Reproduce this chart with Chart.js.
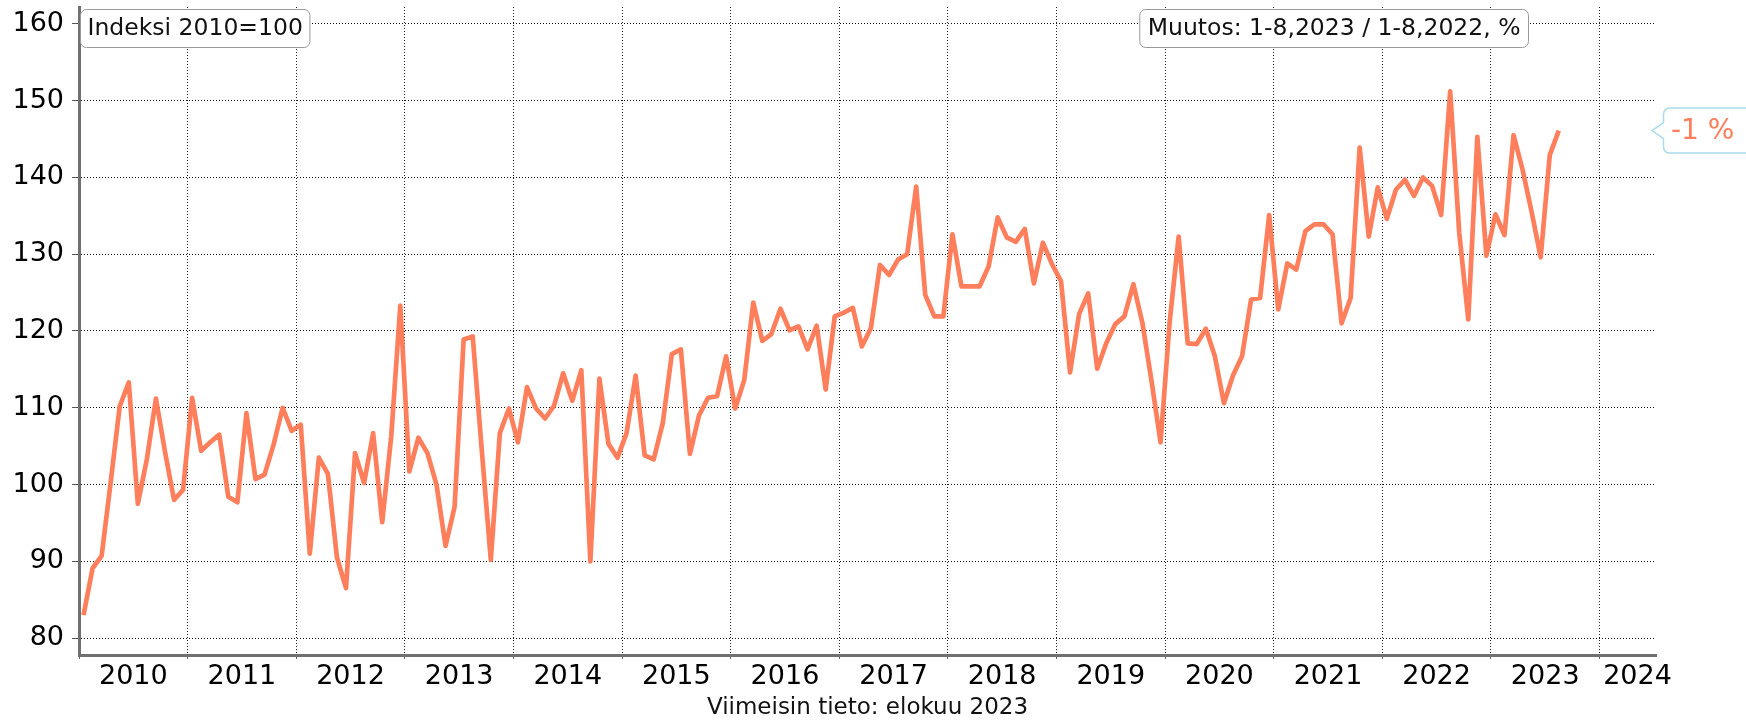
<!DOCTYPE html>
<html>
<head>
<meta charset="utf-8">
<script src="https://cdn.jsdelivr.net/npm/chart.js@4"></script>
<style>
html, body { margin: 0; padding: 0; background: #fff; }
</style>
</head>
<body>
<canvas id="myChart" width="1746" height="721"></canvas>
<script>
// monthly index values, Jan 2010 .. Aug 2023
var y2010 = [83.0, 89.1, 90.7, 100.3, 110.2, 113.3, 97.5, 103.3, 111.2, 104.3, 98.0, 99.3];
var y2011 = [111.3, 104.4, 105.5, 106.5, 98.4, 97.7, 109.3, 100.7, 101.3, 105.2, 110.0, 107.0];
var y2012 = [107.8, 91.0, 103.5, 101.4, 90.5, 86.5, 104.1, 100.2, 106.7, 95.1, 106.3, 123.3];
var y2013 = [101.7, 106.1, 104.1, 100.0, 92.0, 97.1, 118.9, 119.3, 104.5, 90.2, 106.7, 109.9];
var y2014 = [105.5, 112.7, 109.9, 108.6, 110.3, 114.5, 110.9, 114.9, 90.0, 113.8, 105.3, 103.5];
var y2015 = [106.7, 114.2, 103.8, 103.3, 108.0, 117.0, 117.6, 104.0, 109.0, 111.3, 111.5, 116.7];
var y2016 = [109.9, 113.6, 123.7, 118.7, 119.6, 122.9, 120.1, 120.6, 117.6, 120.7, 112.4, 121.9];
var y2017 = [122.4, 123.0, 118.0, 120.4, 128.6, 127.3, 129.3, 130.0, 138.8, 124.7, 121.9, 121.9];
var y2018 = [132.6, 125.8, 125.8, 125.8, 128.4, 134.8, 132.2, 131.6, 133.3, 126.2, 131.5, 128.7];
var y2019 = [126.5, 114.6, 122.2, 124.9, 115.1, 118.4, 120.9, 121.9, 126.1, 121.0, 113.5, 105.5];
var y2020 = [121.1, 132.3, 118.4, 118.3, 120.3, 116.7, 110.6, 114.2, 116.7, 124.1, 124.3, 135.1];
var y2021 = [122.8, 128.8, 128.0, 133.0, 133.9, 133.9, 132.6, 121.0, 124.3, 143.9, 132.3, 138.7];
var y2022 = [134.6, 138.4, 139.7, 137.6, 140.0, 138.9, 135.1, 151.2, 132.8, 121.5, 145.3, 129.8];
var y2023 = [135.2, 132.5, 145.5, 141.0, 135.5, 129.6, 142.9, 146.1];

var years = [2010, 2011, 2012, 2013, 2014, 2015, 2016, 2017, 2018, 2019, 2020, 2021, 2022, 2023, 2024];
var yTicks = [80, 90, 100, 110, 120, 130, 140, 150, 160];
var changeText = '-1 %';

var series = [y2010, y2011, y2012, y2013, y2014, y2015, y2016, y2017, y2018, y2019, y2020, y2021, y2022, y2023];
var points = [];
series.forEach(function (vals, i) {
    vals.forEach(function (v, m) {
        points.push({ x: years[i] + (m + 0.5) / 12, y: v });
    });
});

var FONT = "'DejaVu Sans', Verdana, sans-serif";
var xMax = 2024.52;

function roundBox(ctx, x, y, w, h, r, tip) {
    ctx.beginPath();
    ctx.moveTo(x + r, y);
    ctx.lineTo(x + w - r, y);
    ctx.arcTo(x + w, y, x + w, y + r, r);
    ctx.lineTo(x + w, y + h - r);
    ctx.arcTo(x + w, y + h, x + w - r, y + h, r);
    ctx.lineTo(x + r, y + h);
    ctx.arcTo(x, y + h, x, y + h - r, r);
    if (tip) {
        ctx.lineTo(x, tip.y + 8);
        ctx.lineTo(tip.x, tip.y);
        ctx.lineTo(x, tip.y - 8);
    }
    ctx.lineTo(x, y + r);
    ctx.arcTo(x, y, x + r, y, r);
    ctx.closePath();
}

var labelsPlugin = {
    id: 'labelBoxes',
    afterDraw: function (chart) {
        var ctx = chart.ctx;
        ctx.save();
        ctx.font = '23.5px ' + FONT;
        ctx.textBaseline = 'middle';
        ctx.lineWidth = 1;

        // left box
        var t1 = 'Indeksi 2010=100';
        var w1 = ctx.measureText(t1).width + 14;
        roundBox(ctx, 80.5, 9.5, w1, 38, 6);
        ctx.fillStyle = '#fff';
        ctx.fill();
        ctx.strokeStyle = '#999';
        ctx.stroke();
        ctx.fillStyle = '#111';
        ctx.fillText(t1, 87.5, 29);

        // right box
        var t2 = 'Muutos: 1-8,2023 / 1-8,2022, %';
        var w2 = ctx.measureText(t2).width + 16;
        var x2 = 1528.5 - w2;
        roundBox(ctx, x2, 9.5, w2, 38, 6);
        ctx.fillStyle = '#fff';
        ctx.fill();
        ctx.strokeStyle = '#999';
        ctx.stroke();
        ctx.fillStyle = '#111';
        ctx.fillText(t2, x2 + 8, 29);

        // change callout at last value
        var last = points[points.length - 1];
        var py = chart.scales.y.getPixelForValue(last.y);
        var bx = 1663.5;
        roundBox(ctx, bx, py - 22.5, 110, 45, 6, { x: 1652, y: py });
        ctx.fillStyle = '#fff';
        ctx.fill();
        ctx.strokeStyle = '#a9dbea';
        ctx.lineWidth = 1.5;
        ctx.stroke();
        ctx.font = '28px ' + FONT;
        ctx.fillStyle = '#ff7f5c';
        ctx.fillText(changeText, 1671, py + 1);
        ctx.restore();
    }
};

var ctx = document.getElementById('myChart').getContext('2d');
var myChart = new Chart(ctx, {
    type: 'line',
    data: {
        datasets: [{
            data: points,
            borderColor: '#ff7f5c',
            borderWidth: 4.7,
            borderJoinStyle: 'round',
            borderCapStyle: 'butt',
            pointRadius: 0,
            tension: 0,
            fill: false
        }]
    },
    options: {
        responsive: false,
        animation: false,
        layout: {
            padding: { top: 7, right: 90, left: 0, bottom: 0 }
        },
        plugins: {
            legend: { display: false },
            tooltip: { enabled: false },
            title: {
                display: true,
                fullSize: false,
                position: 'bottom',
                text: 'Viimeisin tieto: elokuu 2023',
                color: '#111',
                font: { family: FONT, size: 23, weight: 'normal', lineHeight: 1 },
                padding: { top: 3.1, bottom: 1.5 }
            }
        },
        scales: {
            x: {
                type: 'linear',
                min: 2010,
                max: xMax,
                afterBuildTicks: function (s) {
                    var t = [];
                    years.forEach(function (yr) {
                        t.push({ value: yr });
                        t.push({ value: Math.min(yr + 0.5, xMax - 0.17) });
                    });
                    s.ticks = t;
                },
                afterFit: function (s) {
                    s.height = 38.4;
                    s.paddingLeft = 0;
                    s.paddingRight = 0;
                },
                ticks: {
                    autoSkip: false,
                    maxRotation: 0,
                    minRotation: 0,
                    padding: 2,
                    color: '#000',
                    font: { family: FONT, size: 27 },
                    callback: function (v) {
                        return v % 1 === 0 ? '' : String(Math.floor(v));
                    }
                },
                grid: {
                    color: function (c) {
                        return c.tick && c.tick.value % 1 !== 0 ? 'rgba(0,0,0,0)' : '#222';
                    },
                    tickColor: function (c) {
                        return c.tick && c.tick.value % 1 !== 0 ? 'rgba(0,0,0,0)' : '#666';
                    },
                    tickLength: 4,
                    lineWidth: 1
                },
                border: { color: '#707070', width: 3, dash: [1, 2] }
            },
            y: {
                min: 77.8,
                max: 162.2,
                afterBuildTicks: function (s) {
                    s.ticks = yTicks.map(function (v) { return { value: v }; });
                },
                afterFit: function (s) {
                    s.width = 79;
                    s.paddingTop = 0;
                    s.paddingBottom = 0;
                },
                ticks: {
                    padding: 8,
                    color: '#000',
                    font: { family: FONT, size: 27 }
                },
                grid: {
                    color: '#111',
                    tickColor: '#555',
                    tickLength: 7,
                    lineWidth: 1
                },
                border: { color: '#707070', width: 3, dash: [1, 2] }
            }
        }
    },
    plugins: [labelsPlugin]
});
</script>
</body>
</html>
